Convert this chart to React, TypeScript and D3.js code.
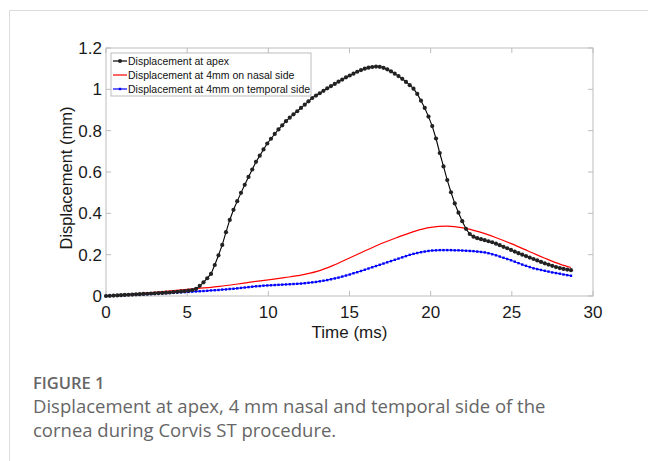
import React from 'react';
import * as d3 from 'd3';

// Corvis ST frame interval (ms)
const FRAME_MS = 0.231;

// Displacement at apex (mm), one value per frame
const apex = [
  0.000, 0.001, 0.002, 0.003, 0.004, 0.005, 0.006, 0.007, 0.008, 0.009,
  0.010, 0.011, 0.012, 0.013, 0.014, 0.015, 0.016, 0.017, 0.019, 0.020,
  0.022, 0.024, 0.026, 0.029, 0.034, 0.049, 0.066, 0.086, 0.107, 0.150,
  0.197, 0.247, 0.309, 0.368, 0.417, 0.459, 0.499, 0.538, 0.576, 0.612,
  0.649, 0.679, 0.709, 0.738, 0.761, 0.784, 0.806, 0.826, 0.846, 0.863,
  0.879, 0.894, 0.910, 0.926, 0.942, 0.958, 0.970, 0.981, 0.993, 1.005,
  1.016, 1.026, 1.037, 1.047, 1.058, 1.067, 1.076, 1.085, 1.093, 1.100,
  1.105, 1.108, 1.110, 1.109, 1.104, 1.097, 1.087, 1.076, 1.064, 1.051,
  1.036, 1.020, 1.003, 0.978, 0.945, 0.910, 0.868, 0.822, 0.762, 0.692,
  0.627, 0.561, 0.502, 0.448, 0.403, 0.362, 0.325, 0.300, 0.287, 0.280,
  0.275, 0.270, 0.265, 0.260, 0.253, 0.246, 0.238, 0.231, 0.223, 0.215,
  0.207, 0.200, 0.193, 0.186, 0.179, 0.172, 0.165, 0.158, 0.152, 0.146,
  0.140, 0.135, 0.131, 0.128, 0.125,
];

// Displacement at 4mm on temporal side (mm), one value per frame
const temporal = [
  0.000, 0.001, 0.002, 0.002, 0.003, 0.004, 0.005, 0.006, 0.006, 0.007,
  0.008, 0.009, 0.010, 0.011, 0.012, 0.013, 0.014, 0.015, 0.016, 0.017,
  0.018, 0.019, 0.020, 0.021, 0.022, 0.023, 0.024, 0.025, 0.027, 0.028,
  0.029, 0.031, 0.032, 0.034, 0.035, 0.037, 0.039, 0.041, 0.043, 0.045,
  0.047, 0.048, 0.050, 0.051, 0.052, 0.053, 0.054, 0.055, 0.056, 0.057,
  0.058, 0.059, 0.060, 0.062, 0.064, 0.066, 0.068, 0.071, 0.074, 0.077,
  0.081, 0.085, 0.089, 0.094, 0.099, 0.104, 0.110, 0.115, 0.121, 0.127,
  0.133, 0.139, 0.145, 0.151, 0.157, 0.163, 0.169, 0.175, 0.181, 0.187,
  0.193, 0.199, 0.204, 0.208, 0.212, 0.215, 0.218, 0.220, 0.221, 0.222,
  0.222, 0.222, 0.222, 0.221, 0.221, 0.220, 0.219, 0.218, 0.217, 0.215,
  0.213, 0.211, 0.207, 0.202, 0.197, 0.191, 0.185, 0.179, 0.173, 0.166,
  0.159, 0.152, 0.146, 0.140, 0.134, 0.130, 0.126, 0.122, 0.118, 0.114,
  0.111, 0.108, 0.104, 0.101, 0.098,
];

// Displacement at 4mm on nasal side (mm), sampled coarser
const nasalTime = [0, 1, 2, 3, 4, 5, 6, 7, 8, 9, 10, 11, 12, 13, 14, 15, 16, 17, 18, 19, 20, 21, 22, 23, 24, 25, 26, 27, 28, 28.64];
const nasal = [
  0.000, 0.006, 0.012, 0.018, 0.025, 0.032, 0.039, 0.047, 0.057, 0.068,
  0.078, 0.089, 0.101, 0.119, 0.148, 0.184, 0.220, 0.255, 0.285, 0.313,
  0.332, 0.338, 0.330, 0.310, 0.283, 0.252, 0.218, 0.184, 0.153, 0.138,
];

const xTicks = [0, 5, 10, 15, 20, 25, 30];
const yTicks = [0, 0.2, 0.4, 0.6, 0.8, 1, 1.2];
const legendLabels = [
  'Displacement at apex',
  'Displacement at 4mm on nasal side',
  'Displacement at 4mm on temporal side',
];

const W = 648;
const H = 461;
const plot = { left: 106, right: 593, top: 48, bottom: 296 };
const axisFont = '"Liberation Sans", Arial, sans-serif';
const captionFont = '"Open Sans", "Noto Sans", sans-serif';

const App = () => {
  const x = d3.scaleLinear().domain([0, 30]).range([plot.left, plot.right]);
  const y = d3.scaleLinear().domain([0, 1.2]).range([plot.bottom, plot.top]);

  const framePts = (vals: number[]) => vals.map((v, i) => [i * FRAME_MS, v] as [number, number]);
  const apexPts = framePts(apex);
  const tempPts = framePts(temporal);
  const nasalPts = nasal.map((v, i) => [nasalTime[i], v] as [number, number]);

  const line = d3.line<[number, number]>().x(d => x(d[0])).y(d => y(d[1]));
  const smooth = d3.line<[number, number]>().x(d => x(d[0])).y(d => y(d[1])).curve(d3.curveMonotoneX);

  const boxColor = '#bdbdbd';
  const tickLen = 5;

  // legend rows
  const lg = { x: 111, y: 53, w: 200, h: 43 };
  const rowY = [61, 75, 89];
  const colors = ['#000000', '#ff0000', '#0000ff'];

  return (
    <svg width={W} height={H} style={{ position: 'absolute', left: 0, top: 0, background: '#fff' }}>
      {/* page frame */}
      <line x1={9.5} y1={10.5} x2={W} y2={10.5} stroke="#dcdcdc" />
      <line x1={9.5} y1={10.5} x2={9.5} y2={H} stroke="#dcdcdc" />

      {/* axes box */}
      <rect x={plot.left} y={plot.top} width={plot.right - plot.left} height={plot.bottom - plot.top}
        fill="#fff" stroke={boxColor} />
      {xTicks.map(t => (
        <g key={'x' + t}>
          <line x1={x(t)} x2={x(t)} y1={plot.bottom} y2={plot.bottom - tickLen} stroke={boxColor} />
          <line x1={x(t)} x2={x(t)} y1={plot.top} y2={plot.top + tickLen} stroke={boxColor} />
          <text x={x(t)} y={plot.bottom + 22} textAnchor="middle" fontFamily={axisFont} fontSize={17} fill="#1a1a1a">{t}</text>
        </g>
      ))}
      {yTicks.map(t => (
        <g key={'y' + t}>
          <line x1={plot.left} x2={plot.left + tickLen} y1={y(t)} y2={y(t)} stroke={boxColor} />
          <line x1={plot.right} x2={plot.right - tickLen} y1={y(t)} y2={y(t)} stroke={boxColor} />
          <text x={plot.left - 4} y={y(t) + 6} textAnchor="end" fontFamily={axisFont} fontSize={17} fill="#1a1a1a">{d3.format('~g')(t)}</text>
        </g>
      ))}
      <text x={(plot.left + plot.right) / 2} y={338} textAnchor="middle" fontFamily={axisFont} fontSize={17} fill="#1a1a1a">Time (ms)</text>
      <text transform="translate(72,178) rotate(-90)" textAnchor="middle"
        fontFamily={axisFont} fontSize={16.5} fill="#1a1a1a">Displacement (mm)</text>

      {/* series */}
      <path d={smooth(nasalPts) ?? ''} fill="none" stroke="#ff0000" strokeWidth={1.2} />
      <path d={line(tempPts) ?? ''} fill="none" stroke="#0000ff" strokeWidth={1} />
      {tempPts.map((d, i) => (
        <rect key={'b' + i} x={x(d[0]) - 1.2} y={y(d[1]) - 1.2} width={2.4} height={2.4} fill="#0000ff" />
      ))}
      <path d={line(apexPts) ?? ''} fill="none" stroke="#000" strokeWidth={1.1} />
      {apexPts.map((d, i) => (
        <circle key={'a' + i} cx={x(d[0])} cy={y(d[1])} r={2.1} fill="#222" />
      ))}

      {/* legend */}
      <rect x={lg.x} y={lg.y} width={lg.w} height={lg.h} fill="#fff" stroke={boxColor} />
      {legendLabels.map((l, i) => (
        <g key={l}>
          <line x1={113} x2={127} y1={rowY[i]} y2={rowY[i]} stroke={colors[i]} strokeWidth={1.2} />
          {i === 0 && <circle cx={120} cy={rowY[i]} r={2} fill="#222" />}
          {i === 2 && <rect x={118.8} y={rowY[i] - 1.2} width={2.4} height={2.4} fill="#0000ff" />}
          <text x={128} y={rowY[i] + 4} fontFamily={axisFont} fontSize={10.5} fill="#111">{l}</text>
        </g>
      ))}

      {/* caption */}
      <text x={33} y={389} fontFamily={captionFont} fontSize={16.5} fontWeight={600} fill="#666">FIGURE 1</text>
      <text x={33} y={413} fontFamily={captionFont} fontSize={18.5} fill="#666">Displacement at apex, 4 mm nasal and temporal side of the</text>
      <text x={33} y={437} fontFamily={captionFont} fontSize={18.5} fill="#666">cornea during Corvis ST procedure.</text>
    </svg>
  );
};

export default App;
